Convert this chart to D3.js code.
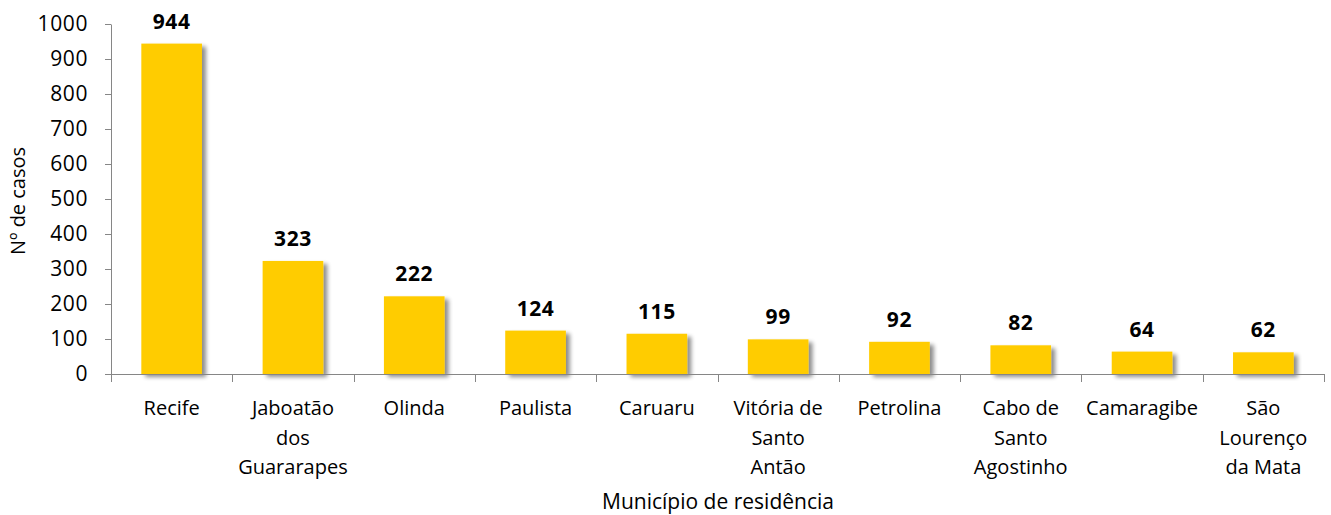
<!DOCTYPE html>
<html><head><meta charset="utf-8">
<script src="https://cdn.jsdelivr.net/npm/d3@7"></script>
<style>body{margin:0;background:#fff}svg{display:block}text{font-family:"Open Sans","Noto Sans",sans-serif}</style>
</head><body>
<svg id="c" width="1331" height="515"></svg>
<script>
const categories = [["Recife"],["Jaboatão","dos","Guararapes"],["Olinda"],["Paulista"],["Caruaru"],["Vitória de","Santo","Antão"],["Petrolina"],["Cabo de","Santo","Agostinho"],["Camaragibe"],["São","Lourenço","da Mata"]];
const values = [944,323,222,124,115,99,92,82,64,62];
const yTicks = [0,100,200,300,400,500,600,700,800,900,1000];
const yTitle = "Nº de casos";
const xTitle = "Município de residência";

(function(){
const svg = d3.select("#c");
const pL = 111, pR = 1324, pT = 24, pB = 374;
const keys = categories.map((c,i)=>i);
const x = d3.scaleBand().domain(keys).range([pL,pR]).paddingInner(0.5).paddingOuter(0.25);
const y = d3.scaleLinear().domain([0,1000]).range([pB,pT]);

const defs = svg.append("defs");
const f = defs.append("filter").attr("id","sh").attr("x","-20%").attr("y","-20%").attr("width","150%").attr("height","150%");
f.append("feGaussianBlur").attr("in","SourceAlpha").attr("stdDeviation",2.2).attr("result","b");
f.append("feOffset").attr("in","b").attr("dx",3.5).attr("dy",3).attr("result","o");
f.append("feComponentTransfer").attr("in","o").attr("result","o2").append("feFuncA").attr("type","linear").attr("slope",0.45);
const m = f.append("feMerge"); m.append("feMergeNode").attr("in","o2"); m.append("feMergeNode").attr("in","SourceGraphic");

svg.append("g").selectAll("rect").data(values).join("rect")
  .attr("x",(d,i)=>x(i)).attr("width",x.bandwidth())
  .attr("y",d=>y(d)).attr("height",d=>pB-y(d))
  .attr("fill","#FFCC00").attr("filter","url(#sh)");

const ya = svg.append("g").attr("transform",`translate(${pL},0)`)
  .call(d3.axisLeft(y).tickValues(yTicks).tickFormat(d3.format("d")).tickSize(6).tickSizeOuter(0).tickPadding(17));
ya.select(".domain").attr("stroke","#868686");
ya.selectAll(".tick line").attr("stroke","#868686");
ya.selectAll(".tick text").attr("font-size",21).attr("fill","#000").attr("font-family",null).attr("letter-spacing","0.6px");

const xa = svg.append("g");
xa.append("line").attr("x1",pL).attr("x2",pR).attr("y1",pB+0.5).attr("y2",pB+0.5).attr("stroke","#868686");
const step = x.step();
d3.range(categories.length+1).forEach(i=>{
  const xx = Math.round(pL + i*step)+0.5;
  xa.append("line").attr("x1",xx).attr("x2",xx).attr("y1",pB).attr("y2",pB+8).attr("stroke","#868686");
});
categories.forEach((lines,i)=>{
  const t = svg.append("text").attr("text-anchor","middle").attr("font-size",20).attr("fill","#000");
  lines.forEach((ln,j)=>t.append("tspan").attr("x",x(i)+x.bandwidth()/2).attr("y",415+j*29.5).text(ln));
});

svg.append("g").selectAll("text").data(values).join("text")
  .attr("x",(d,i)=>x(i)+x.bandwidth()/2).attr("y",d=>y(d)-15)
  .attr("text-anchor","middle").attr("font-size",21).attr("font-weight","bold").attr("fill","#000")
  .attr("letter-spacing","0.6px")
  .text(d=>d);

svg.append("text").attr("transform","translate(25,201) rotate(-90)").attr("text-anchor","middle")
  .attr("font-size",20).attr("fill","#000").text(yTitle);
svg.append("text").attr("x",718).attr("y",509).attr("text-anchor","middle")
  .attr("font-size",21).attr("fill","#000").text(xTitle);
})();
</script>
</body></html>
